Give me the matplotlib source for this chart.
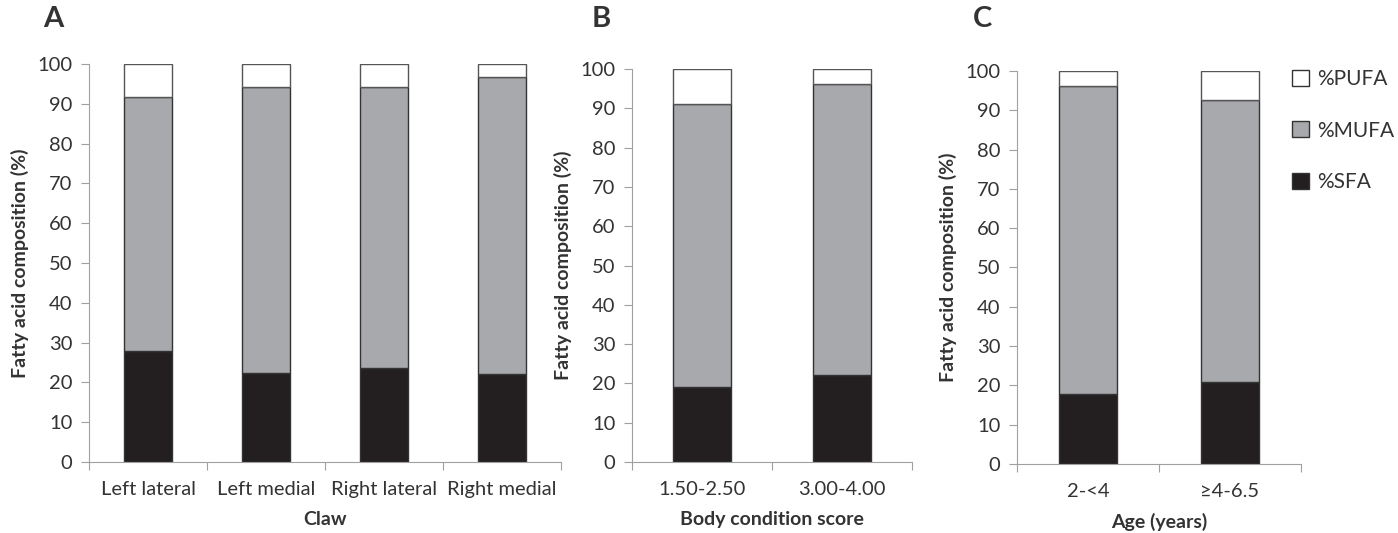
import matplotlib.pyplot as plt
from matplotlib.patches import Patch
import numpy as np

plt.rcParams['font.family'] = ['Lato', 'DejaVu Sans']

# panel A - claw
claw = ['Left lateral', 'Left medial', 'Right lateral', 'Right medial']
claw_sfa = [27.8, 22.3, 23.6, 22.0]
claw_mufa = [63.9, 71.8, 70.6, 74.7]
claw_pufa = [8.3, 5.9, 5.8, 3.3]

# panel B - body condition score
bcs = ['1.50-2.50', '3.00-4.00']
bcs_sfa = [19.2, 22.2]
bcs_mufa = [71.8, 74.1]
bcs_pufa = [9.0, 3.7]

# panel C - age
age = ['2-<4', '≥4-6.5']
age_sfa = [17.7, 20.9]
age_mufa = [78.6, 71.6]
age_pufa = [3.7, 7.5]

sfa_col = '#231f20'
mufa_col = '#a7a9ac'
pufa_col = 'white'
spine_col = '#a0a0a0'
text_col = '#333333'

fig = plt.figure(figsize=(13.98, 5.33), dpi=100)

def draw_panel(ax, cats, sfa, mufa, pufa, xlabel):
    x = np.arange(len(cats))
    sfa = np.array(sfa)
    mufa = np.array(mufa)
    pufa = np.array(pufa)
    ax.bar(x, sfa, width=0.41, color=sfa_col, edgecolor='#333333', linewidth=1)
    ax.bar(x, mufa, width=0.41, bottom=sfa, color=mufa_col, edgecolor='#333333', linewidth=1)
    ax.bar(x, pufa, width=0.41, bottom=sfa + mufa, color=pufa_col, edgecolor='#555555', linewidth=1)
    ax.set_xlim(-0.5, len(cats) - 0.5)
    ax.set_ylim(0, 100)
    ax.set_yticks(range(0, 101, 10))
    ax.set_xticks(np.arange(len(cats) + 1) - 0.5)
    ax.set_xticklabels([])
    ax.set_xticks(x, minor=True)
    ax.set_xticklabels(cats, minor=True)
    ax.tick_params(axis='x', which='minor', length=0, pad=14, labelsize=14.5, labelcolor=text_col)
    ax.tick_params(axis='x', which='major', length=6, color=spine_col, direction='out')
    ax.tick_params(axis='y', length=6, color=spine_col, labelsize=14.5, labelcolor=text_col, pad=6)
    for s in ['top', 'right']:
        ax.spines[s].set_visible(False)
    for s in ['left', 'bottom']:
        ax.spines[s].set_color(spine_col)
    ax.set_xlabel(xlabel, fontsize=14, fontweight='bold', color=text_col, labelpad=9)
    ax.set_ylabel('Fatty acid composition (%)', fontsize=14, fontweight='bold', color=text_col, labelpad=6)

ax1 = fig.add_axes([0.0637, 0.1332, 0.3376, 0.7467])
draw_panel(ax1, claw, claw_sfa, claw_mufa, claw_pufa, 'Claw')

ax2 = fig.add_axes([0.4521, 0.1332, 0.2003, 0.7373])
draw_panel(ax2, bcs, bcs_sfa, bcs_mufa, bcs_pufa, 'Body condition score')

ax3 = fig.add_axes([0.7275, 0.1295, 0.2031, 0.7373])
draw_panel(ax3, age, age_sfa, age_mufa, age_pufa, 'Age (years)')

fig.text(0.031, 0.965, 'A', fontsize=21, fontweight='bold', color=text_col, va='center')
fig.text(0.423, 0.965, 'B', fontsize=21, fontweight='bold', color=text_col, va='center')
fig.text(0.696, 0.965, 'C', fontsize=21, fontweight='bold', color=text_col, va='center')

handles = [Patch(facecolor=pufa_col, edgecolor='#333333', label='%PUFA'),
           Patch(facecolor=mufa_col, edgecolor='#333333', label='%MUFA'),
           Patch(facecolor=sfa_col, edgecolor='#333333', label='%SFA')]
fig.legend(handles=handles, loc='upper left', bbox_to_anchor=(0.911, 0.905), frameon=False,
           fontsize=15, labelspacing=1.5, handlelength=0.8, handleheight=0.8, handletextpad=0.4,
           labelcolor=text_col)

plt.savefig('out.png', dpi=100)
